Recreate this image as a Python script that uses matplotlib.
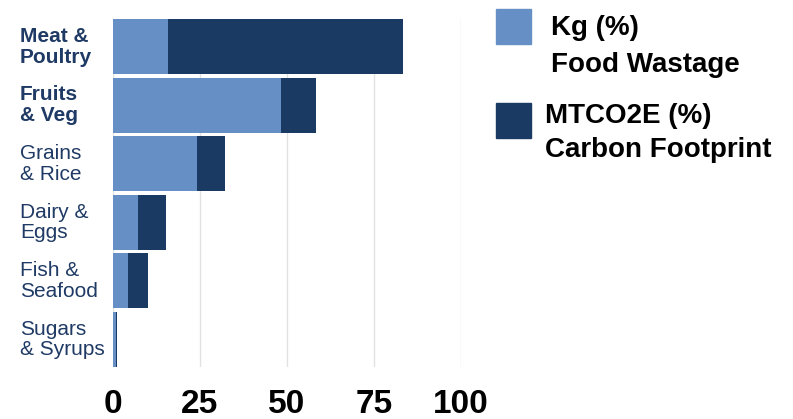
import matplotlib

matplotlib.use("Agg")
import matplotlib.pyplot as plt
from matplotlib.patches import Rectangle

# data (percent)
categories = ["Meat &\nPoultry", "Fruits\n& Veg", "Grains\n& Rice",
              "Dairy &\nEggs", "Fish &\nSeafood", "Sugars\n& Syrups"]
bold_labels = [True, True, False, False, False, False]
kg_pct = [15.8, 48.3, 24.2, 7.2, 4.3, 0.9]
mtco2e_pct = [67.5, 10.2, 8.1, 7.9, 5.7, 0.3]
x_ticks = [0, 25, 50, 75, 100]

LIGHT = "#668fc6"
DARK = "#1b3a63"
LABEL_COLOR = "#1f3a64"
FONT = "Liberation Sans"

W, H = 793, 419
fig = plt.figure(figsize=(W / 100, H / 100), dpi=100)


def fx(px):
    return px / W


def fy(py):
    return 1 - py / H


ax = fig.add_axes([fx(113), fy(367), fx(460.7) - fx(113), fy(19.3) - fy(367)])

ypos = list(range(len(categories)))
ax.barh(ypos, kg_pct, height=0.94, color=LIGHT, zorder=3)
ax.barh(ypos, mtco2e_pct, left=kg_pct, height=0.94, color=DARK, zorder=3)

ax.set_xlim(0, 100)
ax.set_ylim(len(categories) - 0.53, -0.47)
ax.set_xticks(x_ticks)
ax.set_xticklabels([str(t) for t in x_ticks], fontfamily=FONT,
                   fontweight="bold", fontsize=24, color="black")
ax.tick_params(axis="x", length=0, pad=16)
ax.set_yticks([])
for s in ax.spines.values():
    s.set_visible(False)
ax.grid(axis="x", color="#e2e2e2", linewidth=1.0, zorder=0)
ax.set_axisbelow(True)

trans = ax.get_yaxis_transform()
for y, lab, b in zip(ypos, categories, bold_labels):
    ax.text((20 - 113) / 347.7, y, lab, transform=trans, ha="left", va="center",
            fontfamily=FONT, fontsize=15, fontweight="bold" if b else "normal",
            color=LABEL_COLOR, linespacing=1.12)

# legend drawn by hand
fig.patches.append(Rectangle((fx(496), fy(43.7)), fx(35), 35 / H, color=LIGHT,
                             transform=fig.transFigure, figure=fig))
fig.patches.append(Rectangle((fx(496), fy(137.7)), fx(35), 35 / H, color=DARK,
                             transform=fig.transFigure, figure=fig))
legend_kw = dict(fontfamily=FONT, fontweight="bold", fontsize=20,
                 color="black", va="baseline", ha="left")
fig.text(fx(550.7), fy(35), "Kg (%)", **legend_kw)
fig.text(fx(550.7), fy(72.5), "Food Wastage", **legend_kw)
fig.text(fx(545), fy(122.7), "MTCO2E (%)", **legend_kw)
fig.text(fx(545), fy(157.3), "Carbon Footprint", **legend_kw)

fig.savefig("out.png", dpi=100)
